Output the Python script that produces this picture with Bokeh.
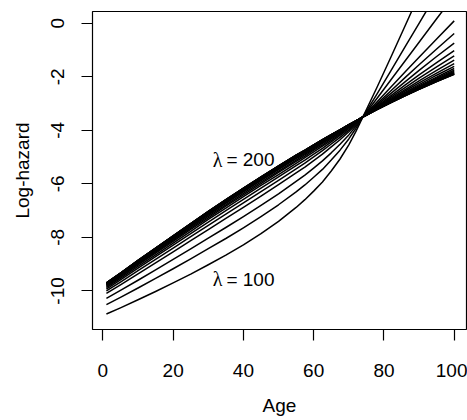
from bokeh.plotting import figure
from bokeh.models import Range1d, FixedTicker, ColumnDataSource
from bokeh.core.properties import value
from bokeh.embed import file_html
from bokeh.resources import INLINE

# ---- data ----
ages = [1, 5, 10, 15, 20, 25, 30, 35, 40, 45, 50, 55, 57.5, 60, 62.5, 65, 67.5, 70, 72, 74,
        78, 82, 86, 90, 95, 100]
lambdas = [100, 105, 110, 115, 120, 125, 130, 135, 140, 145, 150,
           155, 160, 165, 170, 175, 180, 185, 190, 195, 200]

lh_100 = [-10.86, -10.63, -10.33, -10.02, -9.70, -9.37, -9.02, -8.66, -8.28, -7.86, -7.40, -6.88, -6.59, -6.27, -5.93, -5.52, -5.07, -4.54, -4.05, -3.50, -2.40, -1.26, -0.10, 1.06, 2.51, 3.96]
lh_105 = [-10.51, -10.24, -9.89, -9.53, -9.17, -8.80, -8.42, -8.04, -7.64, -7.22, -6.78, -6.30, -6.04, -5.75, -5.46, -5.11, -4.74, -4.32, -3.93, -3.50, -2.65, -1.77, -0.88, 0.00, 1.10, 2.20]
lh_110 = [-10.28, -9.98, -9.60, -9.21, -8.82, -8.43, -8.03, -7.63, -7.22, -6.80, -6.37, -5.91, -5.67, -5.41, -5.14, -4.84, -4.52, -4.17, -3.85, -3.50, -2.81, -2.11, -1.41, -0.71, 0.17, 1.03]
lh_115 = [-10.09, -9.77, -9.36, -8.95, -8.54, -8.12, -7.71, -7.29, -6.88, -6.46, -6.03, -5.59, -5.37, -5.13, -4.89, -4.62, -4.35, -4.05, -3.79, -3.50, -2.94, -2.38, -1.82, -1.27, -0.59, 0.09]
lh_120 = [-10.00, -9.67, -9.24, -8.82, -8.40, -7.97, -7.55, -7.13, -6.71, -6.29, -5.87, -5.44, -5.22, -4.99, -4.76, -4.51, -4.26, -3.99, -3.75, -3.50, -3.01, -2.52, -2.03, -1.55, -0.96, -0.38]
lh_125 = [-9.93, -9.59, -9.15, -8.72, -8.29, -7.86, -7.43, -7.00, -6.58, -6.16, -5.74, -5.32, -5.11, -4.89, -4.67, -4.43, -4.19, -3.94, -3.73, -3.50, -3.06, -2.62, -2.19, -1.76, -1.24, -0.74]
lh_130 = [-9.88, -9.53, -9.08, -8.65, -8.21, -7.77, -7.33, -6.91, -6.48, -6.06, -5.65, -5.23, -5.02, -4.80, -4.59, -4.37, -4.14, -3.90, -3.71, -3.50, -3.10, -2.70, -2.31, -1.93, -1.47, -1.02]
lh_135 = [-9.84, -9.48, -9.03, -8.59, -8.15, -7.70, -7.27, -6.83, -6.41, -5.99, -5.57, -5.16, -4.96, -4.74, -4.54, -4.32, -4.10, -3.88, -3.70, -3.50, -3.12, -2.76, -2.40, -2.05, -1.63, -1.22]
lh_140 = [-9.80, -9.45, -8.99, -8.55, -8.10, -7.65, -7.21, -6.78, -6.35, -5.93, -5.52, -5.11, -4.91, -4.70, -4.49, -4.28, -4.07, -3.86, -3.69, -3.50, -3.15, -2.81, -2.48, -2.15, -1.76, -1.38]
lh_145 = [-9.78, -9.42, -8.96, -8.51, -8.06, -7.61, -7.17, -6.73, -6.30, -5.88, -5.47, -5.06, -4.87, -4.66, -4.46, -4.25, -4.05, -3.84, -3.68, -3.50, -3.16, -2.84, -2.53, -2.23, -1.86, -1.51]
lh_150 = [-9.76, -9.40, -8.94, -8.48, -8.03, -7.58, -7.13, -6.70, -6.27, -5.85, -5.44, -5.03, -4.83, -4.63, -4.43, -4.23, -4.03, -3.83, -3.67, -3.50, -3.18, -2.87, -2.58, -2.29, -1.94, -1.61]
lh_155 = [-9.74, -9.38, -8.91, -8.46, -8.01, -7.55, -7.10, -6.67, -6.24, -5.82, -5.41, -5.00, -4.81, -4.60, -4.41, -4.21, -4.02, -3.82, -3.67, -3.50, -3.19, -2.90, -2.61, -2.34, -2.01, -1.69]
lh_160 = [-9.73, -9.37, -8.90, -8.44, -7.99, -7.53, -7.08, -6.65, -6.22, -5.80, -5.39, -4.98, -4.79, -4.59, -4.39, -4.20, -4.00, -3.81, -3.66, -3.50, -3.20, -2.91, -2.64, -2.38, -2.05, -1.75]
lh_165 = [-9.72, -9.36, -8.89, -8.43, -7.98, -7.52, -7.07, -6.63, -6.20, -5.78, -5.37, -4.97, -4.78, -4.58, -4.38, -4.19, -4.00, -3.81, -3.66, -3.50, -3.20, -2.93, -2.66, -2.40, -2.09, -1.79]
lh_170 = [-9.72, -9.35, -8.88, -8.42, -7.97, -7.51, -7.06, -6.62, -6.19, -5.77, -5.36, -4.96, -4.77, -4.56, -4.37, -4.18, -3.99, -3.80, -3.66, -3.50, -3.21, -2.94, -2.67, -2.42, -2.11, -1.83]
lh_175 = [-9.71, -9.34, -8.88, -8.42, -7.96, -7.50, -7.05, -6.61, -6.18, -5.76, -5.35, -4.95, -4.76, -4.56, -4.37, -4.17, -3.99, -3.80, -3.65, -3.50, -3.21, -2.94, -2.68, -2.44, -2.13, -1.85]
lh_180 = [-9.71, -9.34, -8.87, -8.41, -7.95, -7.49, -7.04, -6.60, -6.18, -5.76, -5.34, -4.94, -4.75, -4.55, -4.36, -4.17, -3.98, -3.80, -3.65, -3.50, -3.21, -2.95, -2.69, -2.45, -2.15, -1.87]
lh_185 = [-9.71, -9.34, -8.87, -8.41, -7.95, -7.49, -7.04, -6.60, -6.17, -5.75, -5.34, -4.94, -4.75, -4.55, -4.36, -4.17, -3.98, -3.79, -3.65, -3.50, -3.22, -2.95, -2.70, -2.45, -2.16, -1.88]
lh_190 = [-9.70, -9.33, -8.86, -8.40, -7.94, -7.48, -7.04, -6.60, -6.17, -5.75, -5.34, -4.93, -4.75, -4.54, -4.35, -4.16, -3.98, -3.79, -3.65, -3.50, -3.22, -2.96, -2.70, -2.46, -2.17, -1.90]
lh_195 = [-9.70, -9.33, -8.86, -8.40, -7.94, -7.48, -7.03, -6.59, -6.16, -5.74, -5.33, -4.93, -4.74, -4.54, -4.35, -4.16, -3.98, -3.79, -3.65, -3.50, -3.22, -2.96, -2.71, -2.47, -2.18, -1.90]
lh_200 = [-9.70, -9.33, -8.86, -8.40, -7.94, -7.48, -7.03, -6.59, -6.16, -5.74, -5.33, -4.93, -4.74, -4.54, -4.35, -4.16, -3.97, -3.79, -3.65, -3.50, -3.22, -2.96, -2.71, -2.47, -2.18, -1.91]

curves = [lh_100, lh_105, lh_110, lh_115, lh_120, lh_125, lh_130, lh_135,
          lh_140, lh_145, lh_150, lh_155, lh_160, lh_165, lh_170, lh_175,
          lh_180, lh_185, lh_190, lh_195, lh_200]

x_ticks = [0, 20, 40, 60, 80, 100]
y_ticks = [-10, -8, -6, -4, -2, 0]
y_tick_labels = ["-10", "-8", "-6", "-4", "-2", "0"]

label_x = [40, 40]
label_y = [-5.1, -9.57]
label_text = ["= 200", "= 100"]
label_symbol = ["\u03bb", "\u03bb"]

FONT = "Liberation Sans"
FS = "19px"

p = figure(width=467, height=418,
           x_range=Range1d(-2.96, 103.5), y_range=Range1d(-11.44, 0.44),
           output_backend="svg", toolbar_location=None,
           min_border_left=92, min_border_right=1,
           min_border_top=11, min_border_bottom=83)
p.grid.visible = False
p.background_fill_color = "white"
p.border_fill_color = "white"
p.outline_line_color = "black"
p.outline_line_width = 1.2

src = ColumnDataSource(dict(xs=[ages] * len(curves), ys=curves, lam=lambdas))
p.multi_line(xs="xs", ys="ys", source=src, line_color="black", line_width=1.5,
             line_join="round")

p.xaxis.ticker = FixedTicker(ticks=x_ticks)
p.yaxis.ticker = FixedTicker(ticks=y_ticks)
p.yaxis.major_label_overrides = {t: s for t, s in zip(y_ticks, y_tick_labels)}
p.yaxis.major_label_orientation = "vertical"
p.xaxis.axis_label = "Age"
p.yaxis.axis_label = "Log-hazard"

for ax in (p.xaxis[0], p.yaxis[0]):
    ax.axis_line_color = None
    ax.major_tick_out = 11
    ax.major_tick_in = 0
    ax.major_tick_line_color = "black"
    ax.major_tick_line_width = 1.2
    ax.minor_tick_line_color = None
    ax.major_label_text_font = FONT
    ax.major_label_text_font_size = FS
    ax.major_label_text_color = "black"
    ax.axis_label_text_font = FONT
    ax.axis_label_text_font_size = FS
    ax.axis_label_text_font_style = "normal"
    ax.axis_label_text_color = "black"

p.xaxis.major_label_standoff = 23
p.xaxis.axis_label_standoff = 15
p.yaxis.major_label_standoff = 17
p.yaxis.axis_label_standoff = 16

lsrc = ColumnDataSource(dict(x=label_x, y=label_y, t=label_text, s=label_symbol))
p.text(x="x", y="y", text="s", source=lsrc, text_align="right", text_baseline="middle",
       x_offset=-21, text_font=value("Liberation Serif"), text_font_size=value("20px"),
       text_color="black")
p.text(x="x", y="y", text="t", source=lsrc, text_align="left", text_baseline="middle",
       x_offset=-17, text_font=value(FONT), text_font_size=value(FS), text_color="black")

open("out.html", "w").write(file_html(p, INLINE))
